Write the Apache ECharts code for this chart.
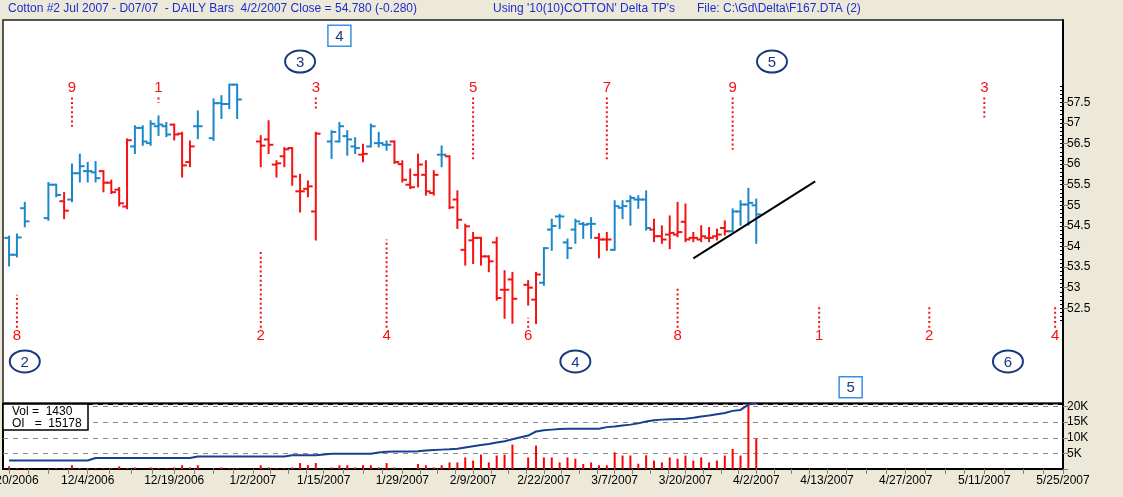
<!DOCTYPE html>
<html><head><meta charset="utf-8">
<script src="https://cdn.jsdelivr.net/npm/echarts@6/dist/echarts.min.js"></script>
<style>html,body{margin:0;padding:0;background:#ECE9D8;}#c{width:1123px;height:497px;}</style>
</head><body><div id="c"></div>
<script>
// ---- data (x = weekday index counted from 11/20/2006) ----
const days = [0,1,2,5,6,7,8,9,10,11,12,13,14,15,16,17,18,19,20,21,22,23,24,26,27,28,29,
  32,33,34,35,36,37,38,39,41,42,43,44,45,46,47,48,49,50,51,52,53,54,55,56,57,58,59,60,61,62,63,64,
  66,67,68,69,70,71,72,73,74,75,76,77,78,79,80,81,82,83,84,85,86,87,88,89,90,91,92,93,94,95];
const opens = [54.21,53.80,54.93,54.69,55.50,55.10,55.14,55.78,55.83,55.80,55.83,55.55,55.38,54.97,56.43,56.88,56.51,56.92,56.92,56.96,56.74,56.05,56.92,56.63,57.48,57.46,57.93,
  56.55,56.60,55.99,56.19,56.39,55.34,55.40,54.85,56.55,56.55,56.68,56.43,56.23,56.43,56.51,56.47,56.55,56.00,55.50,55.74,55.74,55.30,56.23,56.19,55.14,53.92,54.15,54.21,53.76,54.10,52.95,53.20,
  53.07,52.71,53.12,54.41,54.73,54.10,54.41,54.55,54.55,54.21,54.17,53.92,54.94,55.10,55.14,55.14,54.41,54.25,54.29,54.29,54.60,54.21,54.17,54.21,54.25,54.45,54.37,54.85,55.02,55.00];
const highs = [54.24,54.29,55.06,55.54,55.50,55.30,55.99,56.23,56.03,56.05,55.83,55.60,55.42,56.60,56.92,56.92,57.04,57.16,57.00,56.96,56.76,56.55,57.28,57.57,57.65,57.93,57.93,
  56.68,57.04,56.07,56.39,56.39,55.74,55.58,56.76,56.80,57.00,56.80,56.63,56.47,56.96,56.76,56.55,56.55,56.07,55.87,56.23,56.07,55.83,56.43,56.19,55.34,54.53,54.33,54.21,53.76,54.21,53.40,53.36,
  53.16,53.36,53.96,54.65,54.77,54.17,54.65,54.57,54.69,54.30,54.33,55.10,55.10,55.22,55.22,55.34,54.65,54.49,54.73,55.06,55.02,54.33,54.49,54.45,54.41,54.61,54.90,55.10,55.40,55.14];
const lows = [53.54,53.76,54.49,54.65,55.22,54.69,55.10,55.58,55.58,55.58,55.34,55.30,55.00,54.93,56.27,56.47,56.47,56.71,56.68,56.60,55.70,55.95,56.63,56.59,57.12,57.36,57.12,
  55.95,56.27,55.70,55.95,55.50,54.85,55.22,54.17,56.15,56.55,56.23,56.27,56.07,56.43,56.43,56.35,56.03,55.58,55.42,55.46,55.26,55.26,55.95,54.93,54.45,53.56,53.60,53.56,53.40,52.71,52.27,52.15,
  52.59,52.14,53.07,53.92,54.45,53.72,54.09,54.21,54.21,53.74,53.92,53.92,54.69,54.53,54.94,54.41,54.13,54.09,53.96,54.25,54.13,54.13,54.13,54.13,54.17,54.29,54.37,54.53,54.53,54.09];
const closes = [53.80,54.22,54.61,55.50,55.25,54.87,55.78,55.95,55.83,55.66,55.55,55.32,55.05,56.58,56.88,56.55,56.98,56.96,56.72,56.72,55.97,56.43,56.92,57.48,57.46,57.93,57.57,
  56.45,56.47,56.02,56.36,55.70,55.34,55.46,56.74,56.78,56.92,56.60,56.39,56.25,56.92,56.51,56.47,56.05,55.62,55.44,55.99,55.34,55.74,56.23,54.95,54.65,54.49,54.21,53.76,53.64,52.75,52.95,52.73,
  53.00,53.32,53.96,54.50,54.73,53.96,54.61,54.53,54.55,54.17,54.17,54.98,54.98,55.18,55.14,54.45,54.25,54.17,54.33,54.35,54.17,54.21,54.25,54.21,54.29,54.37,54.85,55.02,55.06,54.78];
const barColor = ['b','b','b','b','b','r','b','b','b','b','r','r','r','r','b','b','b','b','b','r','r','r','b','b','b','b','b',
  'r','r','r','r','r','r','r','r','b','b','b','b','r','b','b','b','r','r','r','r','r','r','b','r','r','r','r','r','r','r','r','r',
  'r','r','b','b','b','b','b','b','b','r','r','b','b','b','b','b','r','r','r','r','r','r','r','r','r','r','b','b','b','b'];
// volume and open interest, thousands of contracts
const volumes = [0.85,0.3,0.3,0.1,0.3,0.3,1.2,0.3,0.3,0.3,0.3,0.3,0.85,0.3,0.5,0.1,0.5,0.3,0.3,0.5,1.2,0.5,1.2,0.3,0.5,0.3,0.3,
  1.2,0.5,0.3,0.3,0.5,1.9,1.2,1.9,0.5,1.2,1.2,0.5,1.2,1.2,0.5,1.9,0.5,0.3,0.1,1.6,1.2,0.5,1.2,2.1,2.1,3.7,2.7,4.6,2.1,4.3,4.6,7.8,
  3.7,7.5,3.7,3.7,2.1,3.7,3.3,1.6,2.1,1.2,1.2,5.3,4.3,4.3,1.7,4.4,2.7,2.1,3.7,3.3,4.3,2.7,3.7,2.1,2.7,4.3,6.4,4.3,20.5,9.7];
const openInterest = [2.7,2.7,2.7,2.7,2.7,2.7,2.7,2.7,2.7,3.5,3.5,3.5,3.5,3.5,3.5,3.5,3.5,3.5,3.5,3.5,3.5,3.5,4.0,4.0,4.0,4.0,4.0,
  4.0,4.0,4.0,4.0,4.4,4.4,4.4,4.4,4.9,4.9,4.9,4.9,4.9,4.9,5.3,5.5,5.6,5.6,5.6,5.7,5.9,6.1,6.2,6.3,6.5,6.9,7.3,7.7,8.0,8.5,8.9,9.5,
  10.7,12.0,12.4,12.6,12.8,12.9,12.9,12.9,12.9,12.9,13.4,13.6,13.9,14.2,14.6,15.2,15.6,15.8,15.9,16.0,16.1,16.4,16.8,17.1,17.5,17.9,18.6,18.9,20.6,21.0];
// x axis tick labels
const labelDays = [0,10,21,31,40,50,59,68,77,86,95,104,114,124,134];
const dateLabels = ['11/20/2006','12/4/2006','12/19/2006','1/2/2007','1/15/2007','1/29/2007','2/9/2007','2/22/2007','3/7/2007','3/20/2007','4/2/2007','4/13/2007','4/27/2007','5/11/2007','5/25/2007'];
const priceLabels = [52.5,53,53.5,54,54.5,55,55.5,56,56.5,57,57.5];
// turning point annotations
const topDays = [8,19,39,59,76,92,124];
const topLabels = ['9','1','3','5','7','9','3'];
const topDotEnd = [56.91,57.49,57.32,56.11,56.11,56.35,57.13];
const botDays = [1,32,48,66,85,103,117,133];
const botLabels = ['8','2','4','6','8','1','2','4'];
const botDotStart = [52.83,53.93,54.17,52.27,53.03,52.54,52.54,52.54];
const circleDays = [37,97,2,72,127];
const circleLabels = ['3','5','2','4','6'];
const circlePrices = [58.49,58.49,51.21,51.21,51.21];
const boxDays = [42,107];
const boxLabels = ['4','5'];
const boxPrices = [59.12,50.58];
const trendLine = [[87,53.71],[102.5,55.58]];

// ---- chart ----
const BLUE = '#1c87c9', RED = '#f41212', NAVY = '#1b3a7e';
const FONT = '"Liberation Sans", Arial, sans-serif';
const TOP_TEXT = 57.86, TOP_DOT = 57.62, BOT_TEXT = 51.84, BOT_DOT = 52.03;
const labelMap = {}; labelDays.forEach((d, i) => labelMap[d] = dateLabels[i]);
const tickDays = [];
for (let i = 0; i < labelDays.length; i++) {
  tickDays.push(labelDays[i]);
  if (i < labelDays.length - 1) {
    const a = labelDays[i], b = labelDays[i + 1];
    for (let k = 1; k < 4; k++) tickDays.push(a + (b - a) * k / 4);
  }
}
const minorPrice = [];
for (let v = 522; v <= 579; v++) minorPrice.push(v / 10);

const chart = echarts.init(document.getElementById('c'));

function ohlc(p, api) {
  const d = api.value(0);
  const o = api.coord([d, api.value(1)]), h = api.coord([d, api.value(2)]);
  const l = api.coord([d, api.value(3)]), c = api.coord([d, api.value(4)]);
  const w = api.size([1, 0])[0] * 0.6;
  const col = barColor[p.dataIndex] === 'b' ? BLUE : RED;
  const st = { stroke: col, lineWidth: 2 };
  return { type: 'group', children: [
    { type: 'line', shape: { x1: h[0], y1: h[1] - 1, x2: l[0], y2: l[1] + 1 }, style: st },
    { type: 'line', shape: { x1: o[0] - w, y1: o[1], x2: o[0], y2: o[1] }, style: st },
    { type: 'line', shape: { x1: c[0], y1: c[1], x2: c[0] + w, y2: c[1] }, style: st }
  ]};
}
function tpMark(labels, textPrice, fixedPrice) {
  return function (p, api) {
    const d = api.value(0);
    const t = api.coord([d, textPrice]);
    const a = api.coord([d, fixedPrice]);
    const b = api.coord([d, api.value(1)]);
    return { type: 'group', children: [
      { type: 'text', x: t[0], y: t[1], style: { text: labels[p.dataIndex], fill: RED, font: '15px ' + FONT, align: 'center', verticalAlign: 'middle' } },
      { type: 'line', shape: { x1: a[0], y1: a[1], x2: b[0], y2: b[1] }, style: { stroke: RED, lineWidth: 2, lineDash: [2, 2.6] } }
    ]};
  };
}
function circleMark(p, api) {
  const c = api.coord([api.value(0), api.value(1)]);
  return { type: 'group', children: [
    { type: 'ellipse', shape: { cx: c[0], cy: c[1], rx: 15, ry: 11 }, style: { fill: '#fff', stroke: NAVY, lineWidth: 2 } },
    { type: 'text', x: c[0], y: c[1] + 1, style: { text: circleLabels[p.dataIndex], fill: NAVY, font: '15px ' + FONT, align: 'center', verticalAlign: 'middle' } }
  ]};
}
function boxMark(p, api) {
  const c = api.coord([api.value(0), api.value(1)]);
  return { type: 'group', children: [
    { type: 'rect', shape: { x: c[0] - 11.5, y: c[1] - 10.5, width: 23, height: 21 }, style: { fill: '#fff', stroke: '#3a8ee6', lineWidth: 1.5 } },
    { type: 'text', x: c[0], y: c[1] + 1, style: { text: boxLabels[p.dataIndex], fill: NAVY, font: '15px ' + FONT, align: 'center', verticalAlign: 'middle' } }
  ]};
}

const axisTxt = { color: '#000', fontSize: 12, fontFamily: FONT };
const legendFont = '12px ' + FONT;
const option = {
  backgroundColor: '#ECE9D8',
  animation: false,
  grid: [
    { left: 3, right: 60, top: 20, height: 383, containLabel: false, outerBoundsMode: 'none',
      show: true, backgroundColor: '#fff', borderColor: '#222', borderWidth: 1.5 },
    { left: 3, right: 60, top: 404, height: 65, containLabel: false, outerBoundsMode: 'none',
      show: true, backgroundColor: '#fff', borderColor: '#000', borderWidth: 2 }
  ],
  xAxis: [
    { gridIndex: 0, type: 'value', min: -0.77, max: 134, show: false },
    { gridIndex: 1, type: 'value', min: -0.77, max: 134,
      axisLine: { show: true, onZero: false, lineStyle: { color: '#000', width: 2 } },
      axisTick: { show: true, customValues: tickDays, length: 5, lineStyle: { color: '#808080', width: 1 } },
      axisLabel: Object.assign({ customValues: labelDays, formatter: v => labelMap[v] || '', margin: 6 }, axisTxt),
      splitLine: { show: false } }
  ],
  yAxis: [
    { gridIndex: 0, type: 'value', position: 'right', min: 50.2, max: 59.5,
      axisLine: { show: true, onZero: false, lineStyle: { color: '#000', width: 2 } },
      axisTick: { show: true, customValues: priceLabels, length: 5, lineStyle: { color: '#808080' } },
      axisLabel: Object.assign({ customValues: priceLabels, margin: 4 }, axisTxt),
      splitLine: { show: false } },
    { gridIndex: 0, type: 'value', position: 'right', min: 50.2, max: 59.5,
      axisLine: { show: false, onZero: false },
      axisTick: { show: true, inside: true, customValues: minorPrice, length: 3, lineStyle: { color: '#000' } },
      axisLabel: { show: false }, splitLine: { show: false } },
    { gridIndex: 1, type: 'value', position: 'right', min: 0, max: 20.8, interval: 5,
      axisLine: { show: true, onZero: false, lineStyle: { color: '#000', width: 2 } },
      axisTick: { show: true, length: 5, lineStyle: { color: '#808080' } },
      axisLabel: Object.assign({ formatter: v => v === 0 ? '' : v + 'K', showMaxLabel: false, margin: 4 }, axisTxt),
      splitLine: { show: true, lineStyle: { color: '#8a8a8a', type: [5, 5], width: 1 } } }
  ],
  series: [
    { type: 'custom', xAxisIndex: 0, yAxisIndex: 0, renderItem: ohlc, clip: true, silent: true,
      data: days.map((d, i) => [d, opens[i], highs[i], lows[i], closes[i]]), encode: { x: 0, y: [2, 3] } },
    { type: 'line', xAxisIndex: 0, yAxisIndex: 0, data: trendLine, symbol: 'none', silent: true,
      lineStyle: { color: '#000', width: 2 } },
    { type: 'custom', xAxisIndex: 0, yAxisIndex: 0, clip: false, silent: true,
      renderItem: tpMark(topLabels, TOP_TEXT, TOP_DOT), data: topDays.map((d, i) => [d, topDotEnd[i]]) },
    { type: 'custom', xAxisIndex: 0, yAxisIndex: 0, clip: false, silent: true,
      renderItem: tpMark(botLabels, BOT_TEXT, BOT_DOT), data: botDays.map((d, i) => [d, botDotStart[i]]) },
    { type: 'custom', xAxisIndex: 0, yAxisIndex: 0, clip: false, silent: true,
      renderItem: circleMark, data: circleDays.map((d, i) => [d, circlePrices[i]]) },
    { type: 'custom', xAxisIndex: 0, yAxisIndex: 0, clip: false, silent: true, z: 5,
      renderItem: boxMark, data: boxDays.map((d, i) => [d, boxPrices[i]]) },
    { type: 'bar', xAxisIndex: 1, yAxisIndex: 2, barWidth: 2, silent: true,
      itemStyle: { color: '#ff0000' }, data: days.map((d, i) => [d, volumes[i]]) },
    { type: 'line', xAxisIndex: 1, yAxisIndex: 2, symbol: 'none', silent: true, clip: true,
      lineStyle: { color: '#1b3f8f', width: 2 }, data: days.map((d, i) => [d, openInterest[i]]) }
  ],
  graphic: [
    { type: 'text', x: 8, y: 3, style: { text: 'Cotton #2 Jul 2007 - D07/07  - DAILY Bars  4/2/2007 Close = 54.780 (-0.280)', fill: '#1a2ed0', font: legendFont } },
    { type: 'text', x: 493, y: 3, style: { text: "Using '10(10)COTTON' Delta TP's", fill: '#1a2ed0', font: legendFont } },
    { type: 'text', x: 697, y: 3, style: { text: 'File: C:\\Gd\\Delta\\F167.DTA (2)', fill: '#1a2ed0', font: legendFont } },
    { type: 'rect', z: 100, shape: { x: 3, y: 404, width: 85, height: 26 }, style: { fill: '#fff', stroke: '#000', lineWidth: 1.5 } },
    { type: 'text', z: 101, x: 12, y: 406, style: { text: 'Vol =  1430', fill: '#000', font: legendFont } },
    { type: 'text', z: 101, x: 12, y: 418, style: { text: 'OI   =  15178', fill: '#000', font: legendFont } }
  ]
};
chart.setOption(option);
</script></body></html>
